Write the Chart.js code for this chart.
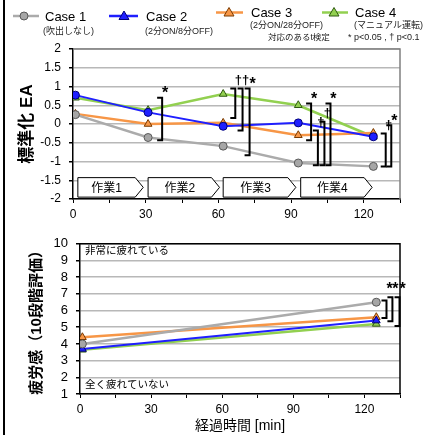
<!DOCTYPE html>
<html>
<head>
<meta charset="utf-8">
<script src="https://cdn.jsdelivr.net/npm/chart.js@4.4.0/dist/chart.umd.min.js"></script>
<style>
  html, body { margin: 0; padding: 0; background: #fff; }
  #wrap { position: relative; width: 425px; height: 435px; overflow: hidden; }
  #topBox { position: absolute; left: 0; top: 0; width: 425px; height: 228px; }
  #botBox { position: absolute; left: 0; top: 228px; width: 425px; height: 207px; }
  #frame { position: absolute; left: 3px; top: 0; width: 2px; height: 435px; background: #000; }
</style>
</head>
<body>
<div id="wrap">
  <div id="topBox"><canvas id="eaChart" width="425" height="228"></canvas></div>
  <div id="botBox"><canvas id="fatigueChart" width="425" height="207"></canvas></div>
  <div id="frame"></div>
</div>
<script>
// series
const seriesNames = ["Case 1", "Case 2", "Case 3", "Case 4"];
const seriesNotes = ["(吹出しなし)", "(2分ON/8分OFF)", "(2分ON/28分OFF)", "(マニュアル運転)"];
const lineColors = ["#ababab", "#1f1fff", "#f79646", "#92d050"];
const markerFill = ["#a6a6a6", "#1f1fff", "#f79646", "#92d050"];
const markerEdge = ["#595959", "#00007a", "#7a3a00", "#2f5a10"];

// 標準化EA (top)
const eaTimes = [1, 31, 62, 93, 124];
const eaCase1 = [0.25, -0.36, -0.59, -1.04, -1.13];
const eaCase2 = [0.77, 0.31, -0.06, 0.03, -0.34];
const eaCase3 = [0.27, 0.0, 0.03, -0.30, -0.24];
const eaCase4 = [0.70, 0.37, 0.80, 0.50, -0.34];

// 疲労感 (bottom)
const fatigueTimes = [1, 125];
const fatigueCase1 = [4.0, 6.5];
const fatigueCase2 = [3.7, 5.4];
const fatigueCase3 = [4.4, 5.6];
const fatigueCase4 = [3.65, 5.2];

// tasks
const taskNames = ["作業1", "作業2", "作業3", "作業4"];
const taskStart = [2, 31, 62, 94];
const taskEnd = [29, 60.5, 92, 123.5];

// significance brackets: x, top, bottom, mark
const eaSig = [
  [36.8, 0.70, -0.43, "*"],
  [67.0, 0.95, 0.16, "†"],
  [70.0, 0.95, -0.17, "†"],
  [72.9, 0.95, -0.83, "*"],
  [98.3, 0.55, -0.43, "*"],
  [101.1, -0.17, -1.10, "†"],
  [103.8, 0.06, -1.10, "†"],
  [106.3, 0.55, -1.10, "*"],
  [129.1, -0.25, -1.13, "†"],
  [131.4, -0.03, -1.13, "*"]
];
const fatigueSig = [
  [129.3, 6.6, 5.55, "*"],
  [131.8, 6.8, 5.36, "*"],
  [134.8, 6.8, 5.07, "*"]
];

const latin = "'Liberation Sans', Arial, sans-serif";
const jp = "'Liberation Sans', 'Noto Sans CJK JP', sans-serif";

function pts(xs, ys) {
  return xs.map((x, i) => ({ x: x, y: ys[i] }));
}

function makeSets(xs, lists, styles) {
  return lists.map((ys, i) => ({
    label: seriesNames[i],
    data: pts(xs, ys),
    borderColor: lineColors[i],
    borderWidth: i === 1 ? 2 : 2.5,
    pointStyle: styles[i],
    pointRadius: styles[i] === "circle" ? 4 : 4.5,
    pointBackgroundColor: markerFill[i],
    pointBorderColor: markerEdge[i],
    pointBorderWidth: 1,
    tension: 0
  }));
}

function drawBrackets(chart, list, starLift) {
  const ctx = chart.ctx;
  const xs = chart.scales.x, ys = chart.scales.y;
  ctx.save();
  ctx.strokeStyle = "#000";
  ctx.lineWidth = 2;
  list.forEach(b => {
    const vx = xs.getPixelForValue(b[0]);
    const t = ys.getPixelForValue(b[1]);
    const btm = ys.getPixelForValue(b[2]);
    ctx.beginPath();
    ctx.moveTo(vx - 5, t);
    ctx.lineTo(vx, t);
    ctx.lineTo(vx, btm);
    ctx.lineTo(vx - 5, btm);
    ctx.stroke();
    ctx.fillStyle = "#000";
    ctx.textAlign = "center";
    ctx.textBaseline = "middle";
    ctx.font = b[3] === "*" ? "bold 16px " + latin : "bold 13px " + latin;
    const y = starLift ? starLift : t - (b[3] === "*" ? 4 : 8);
    ctx.fillText(b[3], vx + 3, y);
  });
  ctx.restore();
}

function frameRight(chart, color) {
  const a = chart.chartArea, ctx = chart.ctx;
  ctx.save();
  ctx.strokeStyle = color;
  ctx.lineWidth = 1.5;
  ctx.beginPath();
  ctx.moveTo(a.left, a.top);
  ctx.lineTo(a.right, a.top);
  ctx.lineTo(a.right, a.bottom);
  ctx.stroke();
  ctx.restore();
}

function legendMarker(ctx, i, cx, cy, x0, x1) {
  ctx.strokeStyle = lineColors[i];
  ctx.lineWidth = 2.5;
  ctx.beginPath();
  ctx.moveTo(x0, cy);
  ctx.lineTo(x1, cy);
  ctx.stroke();
  ctx.fillStyle = markerFill[i];
  ctx.strokeStyle = markerEdge[i];
  ctx.lineWidth = 1;
  ctx.beginPath();
  if (i === 0) {
    ctx.arc(cx, cy, 4, 0, Math.PI * 2);
  } else {
    ctx.moveTo(cx, cy - 5);
    ctx.lineTo(cx + 5, cy + 3.5);
    ctx.lineTo(cx - 5, cy + 3.5);
    ctx.closePath();
  }
  ctx.fill();
  ctx.stroke();
}

const eaPlugin = {
  id: "eaExtras",
  afterDatasetsDraw(chart) {
    const ctx = chart.ctx;
    const xs = chart.scales.x, ys = chart.scales.y;
    frameRight(chart, "#808080");
    // task arrows
    const top = ys.getPixelForValue(-1.43), bot = ys.getPixelForValue(-1.95);
    const mid = (top + bot) / 2;
    ctx.save();
    taskNames.forEach((name, i) => {
      const x0 = xs.getPixelForValue(taskStart[i]);
      const x1 = xs.getPixelForValue(taskEnd[i]);
      ctx.beginPath();
      ctx.moveTo(x0, top);
      ctx.lineTo(x1 - 8, top);
      ctx.lineTo(x1, mid);
      ctx.lineTo(x1 - 8, bot);
      ctx.lineTo(x0, bot);
      ctx.closePath();
      ctx.fillStyle = "#fff";
      ctx.fill();
      ctx.strokeStyle = "#000";
      ctx.lineWidth = 1;
      ctx.stroke();
      ctx.fillStyle = "#000";
      ctx.font = "12px " + jp;
      ctx.textAlign = "center";
      ctx.textBaseline = "middle";
      ctx.fillText(name, (x0 + x1 - 8) / 2, mid + 1);
    });
    ctx.restore();
    drawBrackets(chart, eaSig, 0);
  },
  afterDraw(chart) {
    const ctx = chart.ctx;
    ctx.save();
    const lx = [[13, 39, 24, 16], [109, 138, 124, 16], [216, 243, 229, 12.5], [322, 348, 334, 12.5]];
    const tx = [45, 146, 251, 355];
    const sx = [43, 145, 250, 354];
    lx.forEach((l, i) => {
      legendMarker(ctx, i, l[2], l[3], l[0], l[1]);
      ctx.fillStyle = "#000";
      ctx.textAlign = "left";
      ctx.textBaseline = "middle";
      ctx.font = "13px " + latin;
      ctx.fillText(seriesNames[i], tx[i], l[3] + 1);
      ctx.font = "9px " + jp;
      ctx.fillStyle = "#222";
      ctx.fillText(seriesNotes[i], sx[i], i < 2 ? 32 : 26);
    });
    ctx.font = "8.5px " + jp;
    ctx.fillText("対応のあるt検定", 268, 38);
    ctx.font = "9px " + jp;
    ctx.fillText("* p<0.05 , † p<0.1", 348, 38);
    ctx.restore();
  }
};

const fatiguePlugin = {
  id: "fatigueExtras",
  afterDatasetsDraw(chart) {
    const ctx = chart.ctx;
    const a = chart.chartArea;
    frameRight(chart, "#000");
    ctx.save();
    ctx.fillStyle = "#000";
    ctx.font = "10.5px " + jp;
    ctx.textAlign = "left";
    ctx.textBaseline = "middle";
    ctx.fillText("非常に疲れている", a.left + 5, a.top + 7);
    ctx.fillText("全く疲れていない", a.left + 5, a.bottom - 9);
    ctx.restore();
    drawBrackets(chart, fatigueSig, chart.scales.y.getPixelForValue(7.25));
  }
};

function xAxis(height, pad, title) {
  return {
    type: "linear",
    min: 0,
    max: 135,
    afterFit: s => { s.height = height; },
    ticks: {
      stepSize: 15,
      autoSkip: false,
      maxRotation: 0,
      padding: pad,
      color: "#000",
      font: { size: 12, family: latin },
      callback: v => (v % 30 === 0 && v <= 120 ? v : "")
    },
    grid: { drawOnChartArea: false, drawTicks: true, tickLength: 4, color: "#000" },
    border: { color: "#000", width: 1.5 },
    title: title
  };
}

new Chart(document.getElementById("eaChart"), {
  type: "line",
  data: { datasets: makeSets(eaTimes, [eaCase1, eaCase2, eaCase3, eaCase4], ["circle", "circle", "triangle", "triangle"]) },
  options: {
    responsive: false,
    animation: false,
    layout: { padding: { top: 49, right: 25, left: 0, bottom: 0 } },
    plugins: { legend: { display: false }, tooltip: { enabled: false } },
    scales: {
      x: xAxis(29, 4, { display: false }),
      y: {
        min: -2,
        max: 2,
        afterFit: s => { s.width = 73; },
        ticks: {
          stepSize: 0.5,
          autoSkip: false,
          padding: 8,
          color: "#000",
          font: { size: 12, family: latin },
          callback: v => String(Math.round(v * 10) / 10)
        },
        grid: { color: "#b8b8b8", lineWidth: 1.5, tickColor: "#000", tickLength: 4 },
        border: { color: "#000", width: 1.5 },
        title: {
          display: true,
          text: "標準化 EA",
          color: "#000",
          font: { size: 17, family: jp, weight: "bold" },
          padding: { top: 17, bottom: 0 }
        }
      }
    }
  },
  plugins: [eaPlugin]
});

new Chart(document.getElementById("fatigueChart"), {
  type: "line",
  data: { datasets: makeSets(fatigueTimes, [fatigueCase1, fatigueCase2, fatigueCase3, fatigueCase4], ["circle", "triangle", "triangle", "triangle"]) },
  options: {
    responsive: false,
    animation: false,
    layout: { padding: { top: 10, right: 25, left: 0, bottom: 0 } },
    plugins: { legend: { display: false }, tooltip: { enabled: false } },
    scales: {
      x: xAxis(41, 4, {
        display: true,
        text: "経過時間 [min]",
        color: "#000",
        font: { size: 14, family: jp },
        padding: { top: 0, bottom: 0 }
      }),
      y: {
        min: 1,
        max: 10,
        afterFit: s => { s.width = 80; },
        ticks: { stepSize: 1, autoSkip: false, padding: 8, color: "#000", font: { size: 13, family: latin } },
        grid: { color: "#b8b8b8", lineWidth: 1.5, tickColor: "#000", tickLength: 4 },
        border: { color: "#000", width: 1.5 },
        title: {
          display: true,
          text: "疲労感（10段階評価）",
          color: "#000",
          font: { size: 15, family: jp, weight: "bold" },
          padding: { top: 28, bottom: 0 }
        }
      }
    }
  },
  plugins: [fatiguePlugin]
});
</script>
</body>
</html>
